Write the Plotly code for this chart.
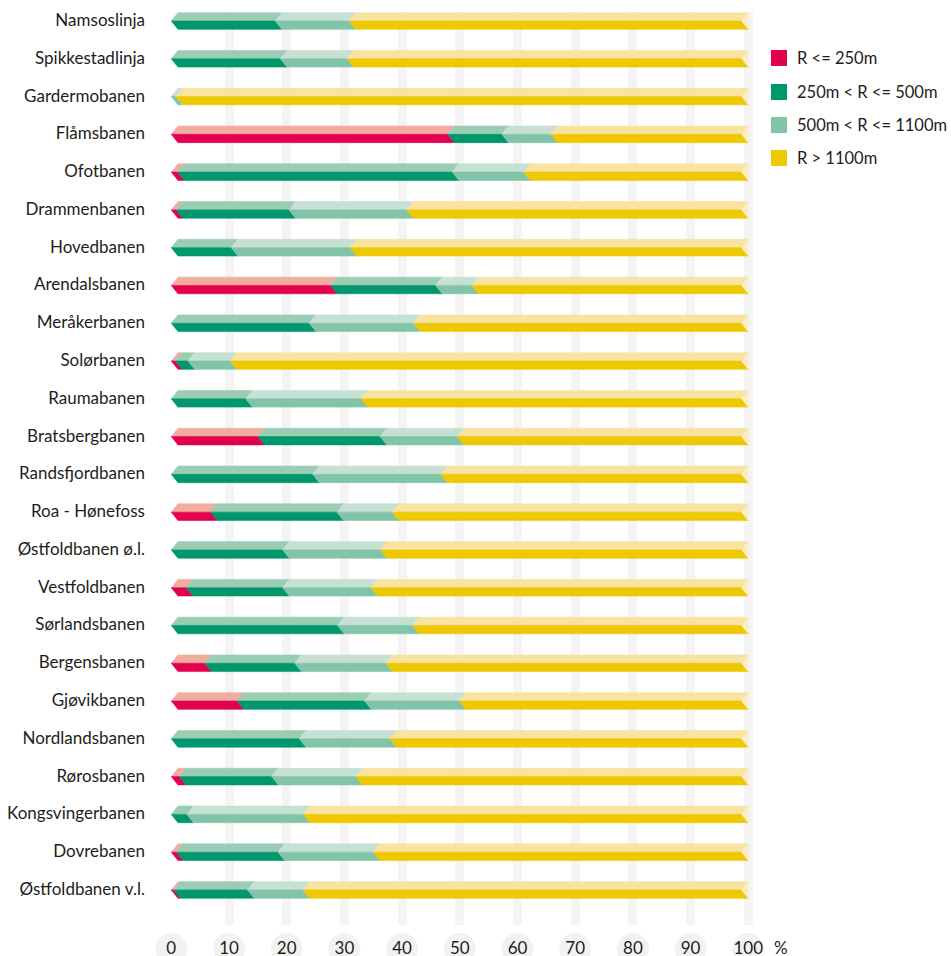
import plotly.graph_objects as go

# ---------------- data (percent of track length per curve-radius class) -------------
lines = ["Namsoslinja", "Spikkestadlinja", "Gardermobanen", "Flåmsbanen", "Ofotbanen",
         "Drammenbanen", "Hovedbanen", "Arendalsbanen", "Meråkerbanen", "Solørbanen",
         "Raumabanen", "Bratsbergbanen", "Randsfjordbanen", "Roa - Hønefoss",
         "Østfoldbanen ø.l.", "Vestfoldbanen", "Sørlandsbanen", "Bergensbanen",
         "Gjøvikbanen", "Nordlandsbanen", "Rørosbanen", "Kongsvingerbanen",
         "Dovrebanen", "Østfoldbanen v.l."]

r_le_250 = [0, 0, 0, 47.9, 1.1, 0.8, 0, 27.6, 0, 0.7, 0, 15.0,
            0, 6.8, 0, 2.6, 0, 5.8, 11.4, 0, 1.4, 0, 0.9, 0.4]
r_250_500 = [18.0, 18.9, 0, 9.4, 47.6, 19.6, 10.4, 18.2, 23.9, 2.2, 12.9, 21.2,
             24.5, 21.9, 19.3, 16.7, 28.8, 15.6, 22.1, 22.2, 16.0, 2.7, 17.6, 12.8]
r_500_1100 = [12.8, 11.6, 0.8, 8.5, 12.4, 20.4, 20.6, 6.3, 18.1, 7.3, 20.0, 13.4,
              22.2, 9.6, 17.0, 15.3, 13.0, 15.8, 16.4, 15.7, 14.6, 20.2, 16.5, 9.6]
r_gt_1100 = [69.2, 69.5, 99.2, 34.2, 38.9, 59.2, 69.0, 47.9, 58.0, 89.8, 67.1, 50.4,
             53.3, 61.7, 63.7, 65.4, 58.2, 62.8, 50.1, 62.1, 68.0, 77.1, 65.0, 77.2]

series_names = ["R <= 250m", "250m < R <= 500m", "500m < R <= 1100m", "R > 1100m"]
x_ticks = [0, 10, 20, 30, 40, 50, 60, 70, 80, 90, 100]

# ---------------- style ----------------
dark = ["#e2004f", "#00976c", "#82c4a8", "#eec800"]
light = ["#f2ad9f", "#9bcdb5", "#c6e0d3", "#f8e3a0"]
end_col = "#fbedc6"
FONT = "Lato"
TXT = "#1d1d1b"

W, HGT = 951, 956
D = 1.15                   # chevron depth (x units)
H = 0.22                   # half bar height (row units)

def py(px):                # pixel (from top) -> paper y (margins are 0)
    return (HGT - px) / HGT

def pxx(px):               # pixel (from left) -> paper x
    return px / W

series = [r_le_250, r_250_500, r_500_1100, r_gt_1100]
n = len(lines)

fig = go.Figure()

polys_top = [([], []) for _ in range(4)]
polys_bot = [([], []) for _ in range(4)]
wedge_x, wedge_y = [], []
for i in range(n):
    start = 0.0
    for k in range(4):
        v = series[k][i]
        if v <= 0:
            continue
        end = start + v
        a = start
        b = end if k < 3 else 100 - D
        xs, ys = polys_top[k]
        xs += [a, a + D, b + D, b, a, None]
        ys += [i, i - H, i - H, i, i, None]
        xs, ys = polys_bot[k]
        xs += [a, a + D, b + D, b, a, None]
        ys += [i, i + H, i + H, i, i, None]
        start = end
    wedge_x += [100 - D, 100, 100, 100 - D, None]
    wedge_y += [i, i - H, i + H, i, None]

for k in range(4):
    for (xs, ys), col in ((polys_top[k], light[k]), (polys_bot[k], dark[k])):
        fig.add_trace(go.Scatter(x=xs, y=ys, mode="lines", fill="toself",
                                 fillcolor=col, line=dict(color=col, width=0.6),
                                 hoverinfo="skip", showlegend=False))
fig.add_trace(go.Scatter(x=wedge_x, y=wedge_y, mode="lines", fill="toself",
                         fillcolor=end_col, line=dict(color=end_col, width=0.6),
                         hoverinfo="skip", showlegend=False))

shapes = []
# tick "pills" behind the x tick labels, anchored at the tick values
for t in x_ticks:
    shapes.append(dict(type="circle", layer="below", xref="x", yref="paper",
                       xsizemode="pixel", ysizemode="pixel", xanchor=t, yanchor=py(949),
                       x0=-16, x1=16, y0=-16, y1=16,
                       fillcolor="#f2f2f2", line=dict(width=0)))

# manual legend
LEG_X, LEG_TX = 779, 795
leg_rows = [58, 92, 125, 158]
for k in range(4):
    shapes.append(dict(type="rect", layer="above", xref="paper", yref="paper",
                       xsizemode="pixel", ysizemode="pixel",
                       xanchor=pxx(LEG_X), yanchor=py(leg_rows[k]),
                       x0=-8, x1=8, y0=-8, y1=8,
                       fillcolor=dark[k], line=dict(width=0)))
    fig.add_annotation(x=pxx(LEG_TX), y=py(leg_rows[k]), xref="paper", yref="paper",
                       text=series_names[k], showarrow=False,
                       xanchor="left", yanchor="middle",
                       font=dict(family=FONT, size=16.5, color=TXT))

fig.add_annotation(x=pxx(772), y=py(947), xref="paper", yref="paper", text="%",
                   showarrow=False, xanchor="left", yanchor="middle",
                   font=dict(family=FONT, size=17, color=TXT))

fig.update_layout(
    width=W, height=HGT,
    margin=dict(l=0, r=0, t=0, b=0),
    paper_bgcolor="white", plot_bgcolor="white",
    font=dict(family=FONT, size=17, color=TXT),
    shapes=shapes,
    xaxis=dict(domain=[154 / W, 760 / W], anchor="y",
               range=[-3.0, 102.03], tickvals=x_ticks, ticktext=[str(t) for t in x_ticks],
               showgrid=True, gridcolor="#f4f4f4", gridwidth=9,
               zeroline=True, zerolinecolor="white", zerolinewidth=1,
               showline=False, ticks="", ticklabelstandoff=11, automargin=False,
               tickfont=dict(family=FONT, size=17, color=TXT), fixedrange=True),
    yaxis=dict(domain=[py(925), py(12)], anchor="x",
               range=[23.928, -0.238], tickvals=list(range(n)), ticktext=lines,
               showgrid=False, zeroline=False, showline=False, ticks="",
               ticklabelstandoff=8, ticklabelshift=1, automargin=False,
               tickfont=dict(family=FONT, size=17, color=TXT), fixedrange=True),
    showlegend=False,
)

fig.write_html("out.html", config={"displayModeBar": False},
               post_script="document.body.style.margin='0';document.body.style.overflow='hidden';")
